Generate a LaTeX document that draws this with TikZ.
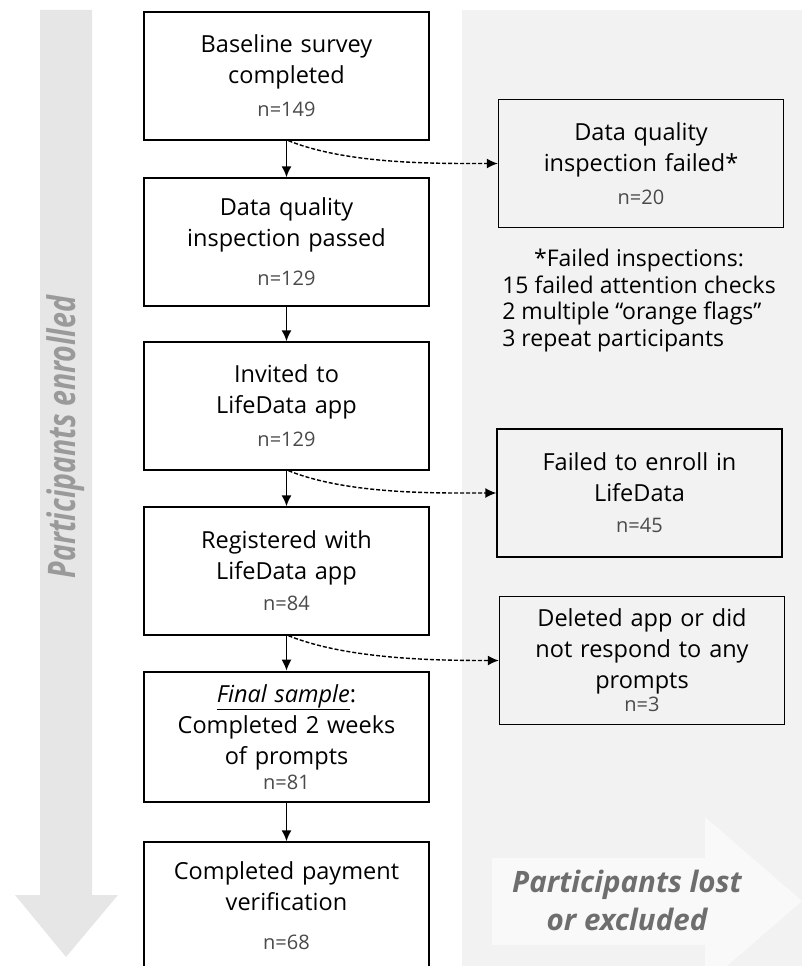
\documentclass[tikz,border=0pt]{standalone}
\usepackage{fontspec}
\setmainfont{Open Sans}
\newfontfamily\condfont[FakeStretch=0.75]{Open Sans}
\usetikzlibrary{arrows.meta}

\definecolor{panelgrey}{HTML}{F2F2F2}
\definecolor{bigarrow}{HTML}{E6E6E6}
\definecolor{lostarrow}{HTML}{F9F9F9}
\definecolor{ngrey}{HTML}{4A4A4A}
\definecolor{labelgrey}{HTML}{9A9A9A}
\definecolor{lostgrey}{HTML}{6E6E6E}

\newcommand{\nval}[1]{{\fontsize{20}{24}\selectfont\color{ngrey}#1}}

\begin{document}
\begin{tikzpicture}[x=1pt,y=1pt]

  \clip (0,0) rectangle (802,-966);
  \useasboundingbox (0,0) rectangle (802,-966);
  \node[anchor=center,inner sep=0] (X) at (0,0) {};

  % node styles
  \tikzstyle{Step}=[
  draw,
  line width=1.4pt,
  fill=white,
  font=\fontsize{23.5}{31}\selectfont,
  align=center,
  text width=280,
  minimum width=285,
  minimum height=128,
  inner sep=0,
  shape=rectangle]

  \tikzstyle{Lost}=[Step,fill=none]
  \tikzstyle{Flow}=[-{Latex[length=11pt,width=10pt]},line width=1.6pt]
  \tikzstyle{Drop}=[-{Latex[length=11pt,width=10pt]},line width=1.4pt,dash pattern=on 4pt off 2pt]

  % background: right panel and the two big arrows
  \fill[panelgrey] (462,-10) rectangle (802,-966);
  \fill[bigarrow] (40,-10) -- (92,-10) -- (92,-895) -- (118,-895)
    -- (66,-957) -- (15,-895) -- (40,-895) -- cycle;
  \fill[lostarrow] (492,-858) -- (705,-858) -- (705,-817) -- (802,-901)
    -- (705,-985) -- (705,-945) -- (492,-945) -- cycle;

  \node[rotate=90,text=labelgrey,
    font=\condfont\bfseries\itshape\fontsize{38}{40}\selectfont] (E) at (66,-437) {Participants enrolled};
  \node[text=lostgrey,align=center,
    font=\bfseries\itshape\fontsize{29.5}{38}\selectfont] (L) at (627,-900) {Participants lost\\or excluded};

  % main column
  \draw (X) node[Step] (S1) at +(286.5, -76.0) {Baseline survey\\completed\\[2pt]\nval{n=149}};
  \draw (X) node[Step] (S2) at +(286.5,-242.0) {Data quality\\inspection passed\\[8pt]\nval{n=129}};
  \draw (X) node[Step] (S3) at +(286.5,-406.0) {Invited to\\LifeData app\\[2pt]\nval{n=129}};
  \draw (X) node[Step] (S4) at +(286.5,-571.0) {Registered with\\LifeData app\\[0pt]\nval{n=84}};
  \draw (X) node[Step,line width=2.6pt,minimum height=130] (S5) at +(286.5,-737.0)
    {\underline{\itshape Final sample}:\\Completed 2 weeks\\of prompts\\[-6pt]\nval{n=81}};
  \draw (X) node[Step] (S6) at +(286.5,-906.0) {Completed payment\\verification\\[8pt]\nval{n=68}};

  % losses
  \draw (X) node[Lost] (R1) at +(641.0,-163.5) {Data quality\\inspection failed*\\[2pt]\nval{n=20}};
  \draw (X) node[Lost] (R2) at +(639.5,-493.0) {Failed to enroll in\\LifeData\\[0pt]\nval{n=45}};
  \draw (X) node[Lost] (R3) at +(642.0,-660.5) {Deleted app or did\\not respond to any\\prompts\\[-8pt]\nval{n=3}};

  \draw (X) node[anchor=center,font=\fontsize{23}{26.5}\selectfont,inner sep=0] (N) at +(639,-301)
    {\begin{tabular}{@{}l@{}}\multicolumn{1}{@{}c@{}}{*Failed inspections:}\\
      15 failed attention checks\\2 multiple “orange flags”\\3 repeat participants\end{tabular}};

  \draw[Flow] (S1.south) -- (S2.north);
  \draw[Flow] (S2.south) -- (S3.north);
  \draw[Flow] (S3.south) -- (S4.north);
  \draw[Flow] (S4.south) -- (S5.north);
  \draw[Flow] (S5.south) -- (S6.north);

  \draw[Drop] ([xshift=2pt]S1.south) .. controls +(60,-24) and +(-60,0) .. (R1.west);
  \draw[Drop] ([xshift=2pt]S3.south) .. controls +(60,-24) and +(-60,0) .. (R2.west);
  \draw[Drop] ([xshift=2pt]S4.south) .. controls +(60,-24) and +(-60,0) .. (R3.west);

\end{tikzpicture}
\end{document}
